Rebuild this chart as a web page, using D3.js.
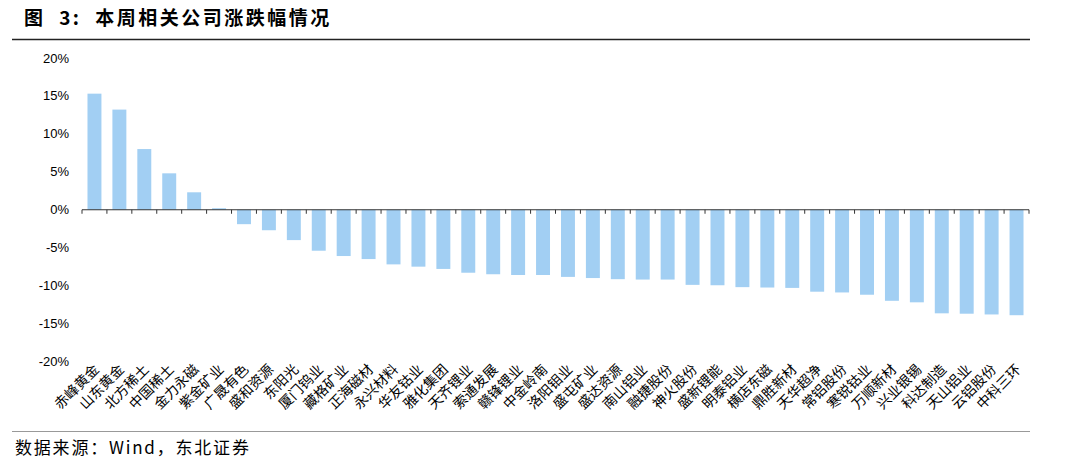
<!DOCTYPE html>
<html lang="zh">
<head>
<meta charset="UTF-8">
<title>本周相关公司涨跌幅情况</title>
<script src="https://d3js.org/d3.v7.min.js"></script>
<style>
  body { margin: 0; background: #fff; }
  svg { display: block; }
  .title { font-family: "Noto Sans CJK SC", sans-serif; font-weight: bold; font-size: 19px; fill: #000; letter-spacing: 2.5px; }
  .source { font-family: "Noto Sans CJK SC", sans-serif; font-size: 17px; fill: #000; letter-spacing: 1.8px; }
  .ylab { font-family: Arial, "Liberation Sans", sans-serif; font-size: 13px; fill: #000; }
  .xlab { font-family: "Noto Sans CJK SC", sans-serif; font-size: 14px; fill: #000; }
</style>
</head>
<body>
<svg width="1080" height="470"></svg>
<script>
const companies = ["赤峰黄金", "山东黄金", "北方稀土", "中国稀土", "金力永磁", "紫金矿业", "广晟有色", "盛和资源",
  "东阳光", "厦门钨业", "藏格矿业", "正海磁材", "永兴材料", "华友钴业", "雅化集团", "天齐锂业", "索通发展",
  "赣锋锂业", "中金岭南", "洛阳钼业", "盛屯矿业", "盛达资源", "南山铝业", "融捷股份", "神火股份", "盛新锂能",
  "明泰铝业", "横店东磁", "鼎胜新材", "天华超净", "常铝股份", "寒锐钴业", "万顺新材", "兴业银锡", "科达制造",
  "天山铝业", "云铝股份", "中科三环"];
const changes = [15.3, 13.2, 8.0, 4.8, 2.3, 0.2, -1.9, -2.7, -4.0, -5.4, -6.1, -6.5, -7.2, -7.5, -7.8, -8.3,
  -8.5, -8.6, -8.6, -8.85, -9.0, -9.15, -9.2, -9.2, -9.9, -9.95, -10.2, -10.25, -10.3, -10.8, -10.9, -11.2,
  -12.0, -12.2, -13.65, -13.7, -13.8, -13.9];
const yTicks = [20, 15, 10, 5, 0, -5, -10, -15, -20];

const svg = d3.select("svg");

svg.append("text").attr("class", "title").attr("x", 24).attr("y", 25)
  .attr("xml:space", "preserve")
  .text("图  3:  本周相关公司涨跌幅情况");
svg.append("line").attr("x1", 12).attr("x2", 1030).attr("y1", 39.5).attr("y2", 39.5)
  .attr("stroke", "#222").attr("stroke-width", 1.5);
svg.append("line").attr("x1", 12).attr("x2", 1030).attr("y1", 431.5).attr("y2", 431.5)
  .attr("stroke", "#999").attr("stroke-width", 1);
svg.append("text").attr("class", "source").attr("x", 15).attr("y", 454)
  .text("数据来源：Wind，东北证券");

const x = d3.scaleBand().domain(companies).range([82, 1029]).paddingInner(0.44).paddingOuter(0.22);
const y = d3.scaleLinear().domain([-20, 20]).range([361.5, 58]);

// y labels
svg.append("g").selectAll("text").data(yTicks).enter().append("text")
  .attr("class", "ylab")
  .attr("x", 69).attr("y", d => y(d)).attr("dy", "0.35em")
  .attr("text-anchor", "end")
  .text(d => d + "%");

// bars
svg.append("g").selectAll("rect").data(changes).enter().append("rect")
  .attr("x", (d, i) => x(companies[i]))
  .attr("width", x.bandwidth())
  .attr("y", d => Math.min(y(d), y(0)))
  .attr("height", d => Math.abs(y(d) - y(0)))
  .attr("fill", "#a2cff3");

// zero axis + ticks at category boundaries
const x0 = 82, span = 947 / companies.length;
const g = svg.append("g");
g.append("line").attr("x1", x0).attr("x2", 1029).attr("y1", y(0)).attr("y2", y(0))
  .attr("stroke", "#333").attr("stroke-width", 1);
g.selectAll("line.tick").data(d3.range(companies.length + 1)).enter().append("line")
  .attr("class", "tick")
  .attr("x1", i => x0 + i * span).attr("x2", i => x0 + i * span)
  .attr("y1", y(0)).attr("y2", y(0) + 4)
  .attr("stroke", "#333").attr("stroke-width", 1);

// x labels, rotated
svg.append("g").selectAll("text").data(companies).enter().append("text")
  .attr("class", "xlab")
  .attr("text-anchor", "end")
  .attr("transform", d => `translate(${x(d) + x.bandwidth() / 2 + 2},${367}) rotate(-45)`)
  .attr("dy", "0.35em")
  .text(d => d);
</script>
</body>
</html>
